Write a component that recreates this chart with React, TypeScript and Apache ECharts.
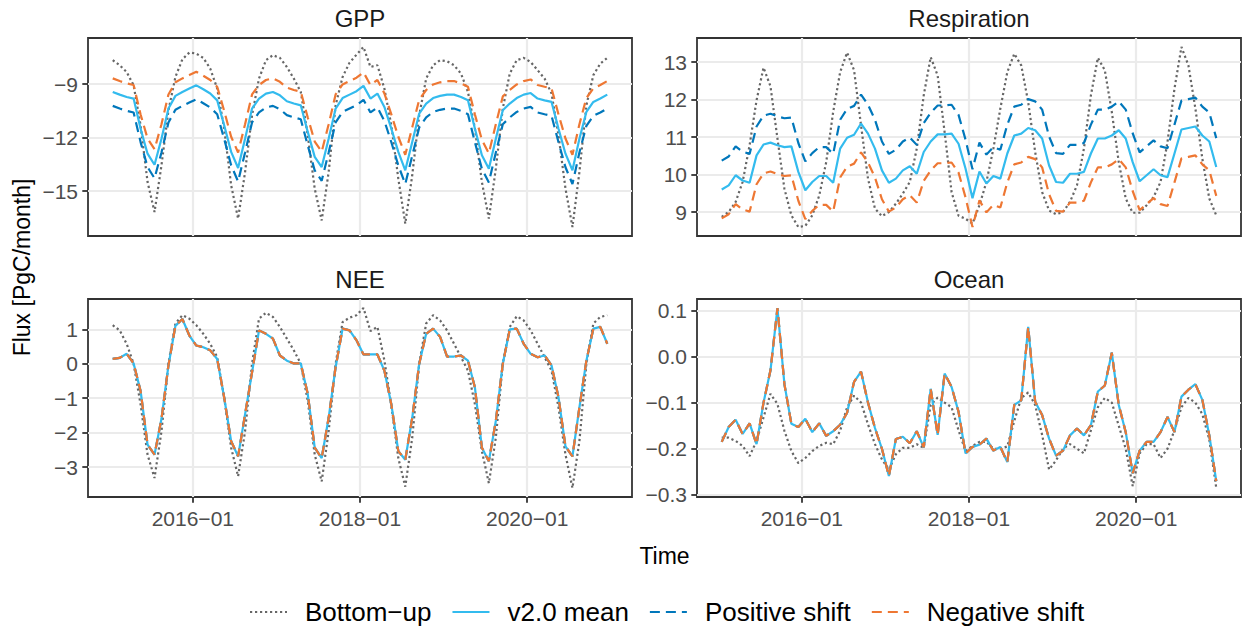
import React, { useEffect, useRef } from 'react';
import * as echarts from 'echarts';

const FONT = '"Liberation Sans", Arial, Helvetica, sans-serif';

// ---- categories / labels ----
const SERIES_NAMES = ['Bottom−up', 'v2.0 mean', 'Positive shift', 'Negative shift'];
const PANEL_TITLES = ['GPP', 'Respiration', 'NEE', 'Ocean'];
// x = month index (0 = 2015-01, mid-month), 72 months to 2020-12
const X_TICK_VALUES = [11.5, 35.5, 59.5];
const X_TICK_LABELS = ['2016−01', '2018−01', '2020−01'];
const GPP_TICKS = [-15, -12, -9];
const RESP_TICKS = [9, 10, 11, 12, 13];
const NEE_TICKS = [-3, -2, -1, 0, 1];
const OCEAN_TICKS = [-0.3, -0.2, -0.1, 0, 0.1];

// ---- GPP ----
const GPP_BU = [
  -7.66, -7.94, -8.32, -9.07, -11.31, -14.49, -16.17, -13.55, -10.47, -8.60, -7.61, -7.23,
  -7.29, -7.53, -8.13, -9.25, -11.50, -14.67, -16.54, -13.93, -10.75, -8.69, -7.66, -7.38,
  -7.53, -8.04, -8.69, -9.44, -11.87, -14.86, -16.64, -13.93, -10.19, -8.60, -7.80, -7.35,
  -6.92, -8.04, -7.94, -9.25, -11.31, -14.30, -16.82, -14.11, -10.75, -8.69, -7.94, -7.66,
  -7.72, -7.94, -8.41, -9.44, -11.50, -14.49, -16.54, -13.74, -10.37, -8.41, -7.66, -7.53,
  -7.76, -8.22, -8.69, -9.53, -11.87, -14.86, -17.01, -13.93, -10.19, -8.50, -7.85, -7.53,
];
const GPP_MEAN = [
  -9.44, -9.59, -9.72, -9.81, -11.50, -12.90, -13.52, -12.06, -10.37, -9.66, -9.44, -9.25,
  -9.07, -9.29, -9.53, -9.91, -11.31, -12.80, -13.70, -12.06, -10.37, -9.81, -9.53, -9.44,
  -9.63, -9.96, -10.09, -10.19, -11.68, -13.08, -13.65, -12.06, -10.37, -9.78, -9.59, -9.40,
  -9.10, -9.81, -9.53, -10.28, -11.50, -12.80, -13.83, -12.24, -10.65, -10.09, -9.78, -9.66,
  -9.59, -9.59, -9.72, -9.91, -11.50, -12.99, -13.74, -12.06, -10.47, -10.09, -9.78, -9.59,
  -9.50, -9.81, -9.91, -10.00, -11.50, -12.90, -13.83, -12.06, -10.56, -10.00, -9.81, -9.59,
];
const GPP_POS = [
  -10.22, -10.37, -10.50, -10.59, -12.25, -13.65, -14.28, -12.83, -11.15, -10.44, -10.22, -10.03,
  -9.85, -10.07, -10.31, -10.69, -12.07, -13.55, -14.46, -12.83, -11.15, -10.59, -10.31, -10.22,
  -10.41, -10.74, -10.87, -10.97, -12.44, -13.84, -14.42, -12.83, -11.15, -10.56, -10.37, -10.18,
  -9.88, -10.59, -10.31, -11.06, -12.26, -13.56, -14.60, -13.01, -11.43, -10.87, -10.56, -10.44,
  -10.37, -10.37, -10.50, -10.69, -12.26, -13.75, -14.51, -12.83, -11.25, -10.87, -10.56, -10.37,
  -10.28, -10.59, -10.69, -10.78, -12.26, -13.66, -14.60, -12.83, -11.34, -10.78, -10.59, -10.37,
];
const GPP_NEG = [
  -8.68, -8.83, -8.96, -9.05, -10.70, -12.05, -12.65, -11.25, -9.58, -8.90, -8.68, -8.49,
  -8.31, -8.53, -8.77, -9.15, -10.50, -11.95, -12.83, -11.25, -9.58, -9.05, -8.77, -8.68,
  -8.87, -9.20, -9.33, -9.43, -10.87, -12.22, -12.79, -11.25, -9.58, -9.02, -8.83, -8.64,
  -8.34, -9.05, -8.77, -9.52, -10.70, -11.95, -12.96, -11.42, -9.87, -9.33, -9.02, -8.90,
  -8.83, -8.83, -8.96, -9.15, -10.70, -12.13, -12.88, -11.25, -9.69, -9.33, -9.02, -8.83,
  -8.74, -9.05, -9.15, -9.24, -10.70, -12.05, -12.96, -11.25, -9.78, -9.24, -9.05, -8.83,
];

// ---- Respiration ----
const RESP_BU = [
  8.87, 9.00, 9.27, 9.80, 10.78, 11.98, 12.85, 12.35, 10.96, 9.62, 8.91, 8.60,
  8.63, 8.91, 9.44, 10.33, 11.67, 12.73, 13.25, 12.78, 11.31, 9.89, 9.09, 8.89,
  9.00, 9.22, 9.49, 9.80, 10.69, 12.11, 13.13, 12.64, 11.13, 9.53, 8.90, 8.82,
  8.69, 9.18, 9.80, 10.69, 11.76, 12.73, 13.22, 12.91, 11.93, 10.60, 9.53, 9.04,
  8.94, 9.00, 9.27, 9.71, 10.69, 12.11, 13.11, 12.78, 11.67, 10.33, 9.36, 8.98,
  8.98, 9.18, 9.40, 9.80, 10.87, 12.29, 13.40, 12.91, 11.76, 10.42, 9.36, 8.91,
];
const RESP_MEAN = [
  9.60, 9.71, 9.98, 9.84, 9.78, 10.51, 10.80, 10.85, 10.78, 10.73, 10.75, 10.07,
  9.58, 9.80, 9.96, 9.96, 9.78, 10.69, 10.98, 11.06, 11.36, 11.09, 10.69, 10.11,
  9.78, 9.89, 10.11, 10.22, 10.02, 10.60, 10.88, 11.07, 11.07, 11.09, 10.82, 10.16,
  9.37, 10.08, 9.76, 9.96, 9.89, 10.56, 11.04, 11.09, 11.24, 11.18, 10.96, 10.24,
  9.80, 9.78, 10.02, 10.02, 10.07, 10.56, 10.96, 10.96, 11.04, 11.18, 10.96, 10.33,
  9.82, 9.98, 10.14, 9.98, 9.93, 10.56, 11.20, 11.24, 11.28, 11.04, 10.88, 10.20,
];
const RESP_POS = [
  10.37, 10.48, 10.75, 10.61, 10.55, 11.28, 11.57, 11.62, 11.55, 11.50, 11.52, 10.84,
  10.35, 10.57, 10.73, 10.73, 10.55, 11.46, 11.75, 11.83, 12.13, 11.86, 11.46, 10.88,
  10.55, 10.66, 10.88, 10.99, 10.79, 11.37, 11.65, 11.84, 11.84, 11.86, 11.59, 10.93,
  10.14, 10.85, 10.53, 10.73, 10.66, 11.33, 11.81, 11.86, 12.01, 11.95, 11.73, 11.01,
  10.57, 10.55, 10.79, 10.79, 10.84, 11.33, 11.73, 11.73, 11.81, 11.95, 11.73, 11.10,
  10.59, 10.75, 10.91, 10.75, 10.70, 11.33, 11.97, 12.01, 12.05, 11.81, 11.65, 10.97,
];
const RESP_NEG = [
  8.83, 8.94, 9.21, 9.07, 9.01, 9.74, 10.03, 10.08, 10.01, 9.96, 9.98, 9.30,
  8.81, 9.03, 9.19, 9.19, 9.01, 9.92, 10.21, 10.29, 10.59, 10.32, 9.92, 9.34,
  9.01, 9.12, 9.34, 9.45, 9.25, 9.83, 10.11, 10.30, 10.30, 10.32, 10.05, 9.39,
  8.60, 9.31, 8.99, 9.19, 9.12, 9.79, 10.27, 10.32, 10.47, 10.41, 10.19, 9.47,
  9.03, 9.01, 9.25, 9.25, 9.30, 9.79, 10.19, 10.19, 10.27, 10.41, 10.19, 9.56,
  9.05, 9.21, 9.37, 9.21, 9.16, 9.79, 10.43, 10.47, 10.51, 10.27, 10.11, 9.43,
];

// ---- NEE ----
const NEE_BU = [
  1.12, 0.97, 0.58, 0.00, -1.18, -2.64, -3.32, -1.96, 0.00, 1.17, 1.41, 1.31,
  1.12, 0.87, 0.58, 0.19, -0.98, -2.44, -3.27, -1.96, 0.00, 1.31, 1.48, 1.36,
  1.07, 0.73, 0.39, 0.00, -1.08, -2.64, -3.42, -1.96, 0.00, 1.21, 1.34, 1.41,
  1.62, 0.95, 1.07, 0.10, -1.22, -2.74, -3.57, -2.15, 0.00, 1.17, 1.41, 1.26,
  0.97, 0.58, 0.19, -0.20, -1.18, -2.54, -3.47, -2.15, 0.00, 1.07, 1.38, 1.26,
  0.97, 0.58, 0.19, -0.20, -1.27, -2.64, -3.61, -2.25, 0.00, 1.17, 1.36, 1.41,
];
const NEE_MEAN = [
  0.14, 0.17, 0.29, 0.01, -0.79, -2.35, -2.64, -1.60, -0.05, 1.10, 1.30, 0.82,
  0.53, 0.48, 0.39, 0.14, -0.98, -2.25, -2.69, -1.47, -0.25, 0.97, 0.87, 0.73,
  0.24, 0.09, 0.01, 0.01, -0.88, -2.44, -2.74, -1.57, -0.10, 1.02, 0.97, 0.68,
  0.27, 0.27, 0.27, -0.20, -1.18, -2.54, -2.79, -1.57, 0.00, 0.87, 1.02, 0.78,
  0.21, 0.21, 0.24, 0.09, -0.69, -2.44, -2.83, -1.66, 0.00, 1.00, 1.02, 0.58,
  0.29, 0.19, 0.24, -0.05, -0.98, -2.40, -2.69, -1.27, 0.09, 1.02, 1.07, 0.58,
];
const NEE_POS = NEE_MEAN;
const NEE_NEG = NEE_MEAN;

// ---- Ocean ----
const OCEAN_BU = [
  -0.176, -0.176, -0.183, -0.194, -0.216, -0.183, -0.132, -0.081, -0.103, -0.161, -0.205, -0.231,
  -0.220, -0.205, -0.194, -0.187, -0.190, -0.161, -0.110, -0.085, -0.100, -0.147, -0.190, -0.223,
  -0.245, -0.212, -0.198, -0.198, -0.190, -0.198, -0.105, -0.089, -0.100, -0.110, -0.160, -0.205,
  -0.194, -0.185, -0.185, -0.200, -0.200, -0.195, -0.140, -0.090, -0.078, -0.105, -0.170, -0.245,
  -0.225, -0.200, -0.190, -0.200, -0.210, -0.160, -0.110, -0.090, -0.100, -0.150, -0.200, -0.281,
  -0.210, -0.190, -0.190, -0.220, -0.200, -0.160, -0.110, -0.090, -0.100, -0.125, -0.180, -0.285,
];
const OCEAN_MEAN = [
  -0.185, -0.153, -0.137, -0.168, -0.145, -0.190, -0.100, -0.030, 0.105, -0.060, -0.146, -0.153,
  -0.135, -0.164, -0.145, -0.172, -0.162, -0.148, -0.122, -0.055, -0.033, -0.100, -0.155, -0.200,
  -0.259, -0.179, -0.174, -0.188, -0.162, -0.197, -0.070, -0.170, -0.037, -0.066, -0.120, -0.210,
  -0.196, -0.191, -0.178, -0.204, -0.196, -0.229, -0.105, -0.095, 0.064, -0.098, -0.127, -0.178,
  -0.215, -0.204, -0.171, -0.156, -0.171, -0.149, -0.076, -0.063, 0.008, -0.105, -0.164, -0.253,
  -0.204, -0.185, -0.185, -0.164, -0.131, -0.164, -0.087, -0.072, -0.060, -0.094, -0.171, -0.270,
];
const OCEAN_POS = OCEAN_MEAN;
const OCEAN_NEG = OCEAN_MEAN;

// ---- styling ----
const COLORS = ['#666666', '#33BBEE', '#0077BB', '#EE7733'];
const DASHES: any[] = [[2.2, 2.8], 'solid', [10, 6], [10, 6]];
const GRIDS = [
  { left: 88, top: 38, width: 544, height: 198 },
  { left: 697, top: 38, width: 544, height: 198 },
  { left: 88, top: 299, width: 544, height: 198 },
  { left: 697, top: 299, width: 544, height: 198 },
];
const X_MIN = -3.55;
const X_MAX = 74.55;

function fmtNum(v: number, dec: number) {
  return v.toFixed(dec).replace('-', '−');
}

function buildOption() {
  const panels = [
    { sets: [GPP_BU, GPP_MEAN, GPP_POS, GPP_NEG], ticks: GPP_TICKS, dec: 0 },
    { sets: [RESP_BU, RESP_MEAN, RESP_POS, RESP_NEG], ticks: RESP_TICKS, dec: 0 },
    { sets: [NEE_BU, NEE_MEAN, NEE_POS, NEE_NEG], ticks: NEE_TICKS, dec: 0 },
    { sets: [OCEAN_BU, OCEAN_MEAN, OCEAN_POS, OCEAN_NEG], ticks: OCEAN_TICKS, dec: 1 },
  ];
  const labelStyle = { color: '#4D4D4D', fontSize: 21, fontFamily: FONT };
  const tickLine = { color: '#333333', width: 1.8 };
  const grid: any[] = [];
  const xAxis: any[] = [];
  const yAxis: any[] = [];
  const series: any[] = [];
  const graphic: any[] = [];
  const drawOrder = [0, 2, 1, 3];

  panels.forEach((p, gi) => {
    const g = GRIDS[gi];
    grid.push({
      ...g, show: true, borderColor: '#333333', borderWidth: 1.8,
      backgroundColor: '#ffffff', containLabel: false, outerBoundsMode: 'none',
    });
    const bottom = gi >= 2;
    xAxis.push({
      type: 'value', gridIndex: gi, min: X_MIN, max: X_MAX, position: 'bottom',
      axisLine: { show: false, onZero: false },
      axisTick: { show: bottom, customValues: X_TICK_VALUES, length: 5.7, lineStyle: tickLine },
      axisLabel: {
        show: bottom, customValues: X_TICK_VALUES, margin: 11, ...labelStyle,
        formatter: (v: number) => {
          let best = 0;
          X_TICK_VALUES.forEach((t, k) => { if (Math.abs(t - v) < Math.abs(X_TICK_VALUES[best] - v)) best = k; });
          return X_TICK_LABELS[best];
        },
      },
      splitLine: { show: true, lineStyle: { color: '#EBEBEB', width: 2.2 } },
    });
    let lo = Infinity, hi = -Infinity;
    p.sets.forEach((arr) => arr.forEach((v) => { lo = Math.min(lo, v); hi = Math.max(hi, v); }));
    const pad = (hi - lo) * 0.05;
    yAxis.push({
      type: 'value', gridIndex: gi, min: lo - pad, max: hi + pad, position: 'left',
      axisLine: { show: false, onZero: false },
      axisTick: { show: true, customValues: p.ticks, length: 5.7, lineStyle: tickLine },
      axisLabel: { customValues: p.ticks, margin: 10, ...labelStyle, formatter: (v: number) => fmtNum(v, p.dec) },
      splitLine: { show: true, lineStyle: { color: '#EBEBEB', width: 2.2 } },
    });
    drawOrder.forEach((si) => {
      series.push({
        type: 'line', name: SERIES_NAMES[si], xAxisIndex: gi, yAxisIndex: gi,
        data: p.sets[si].map((v, i) => [i, v]),
        symbol: 'none', showSymbol: false, silent: true,
        lineStyle: { color: COLORS[si], width: 2.2, type: DASHES[si] },
        itemStyle: { color: COLORS[si] },
      });
    });
    graphic.push({
      type: 'text', x: g.left + g.width / 2, y: g.top - 20,
      style: { text: PANEL_TITLES[gi], fontSize: 24, fontFamily: FONT, fill: '#1A1A1A', textAlign: 'center', textVerticalAlign: 'middle' },
    });
  });

  graphic.push({
    type: 'text', x: 22, y: 267.5, rotation: Math.PI / 2,
    style: { text: 'Flux [PgC/month]', fontSize: 23, fontFamily: FONT, fill: '#000000', textAlign: 'center', textVerticalAlign: 'middle' },
  });
  graphic.push({
    type: 'text', x: 664.5, y: 556,
    style: { text: 'Time', fontSize: 23, fontFamily: FONT, fill: '#000000', textAlign: 'center', textVerticalAlign: 'middle' },
  });

  return {
    animation: false,
    backgroundColor: '#ffffff',
    grid, xAxis, yAxis, series, graphic,
    legend: {
      data: SERIES_NAMES, left: 244, top: 594, orient: 'horizontal',
      itemWidth: 37, itemHeight: 16, itemGap: 20, selectedMode: false,
      itemStyle: { opacity: 0, color: 'rgba(0,0,0,0)', borderWidth: 0 },
      textStyle: { fontSize: 26, fontFamily: FONT, color: '#000000', padding: [0, 0, 0, 13] },
    },
  };
}

export default function App() {
  const ref = useRef<HTMLDivElement>(null);
  useEffect(() => {
    const chart = echarts.init(ref.current as HTMLDivElement, null, { renderer: 'svg' });
    chart.setOption(buildOption() as any);
    return () => chart.dispose();
  }, []);
  return <div ref={ref} style={{ position: 'absolute', left: 0, top: 0, width: 1248, height: 630 }} />;
}
